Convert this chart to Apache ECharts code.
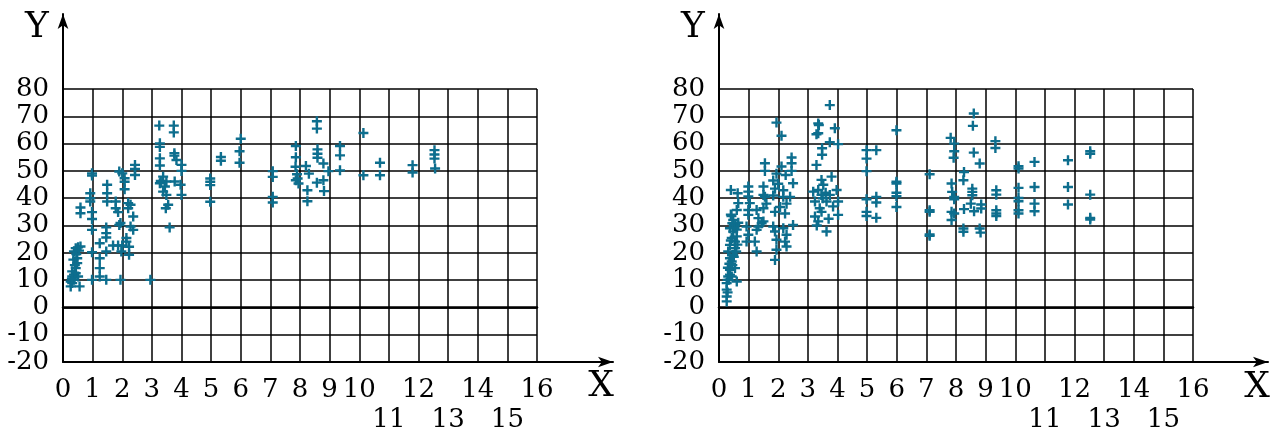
<!DOCTYPE html>
<html>
<head>
<meta charset="utf-8">
<script src="https://cdn.jsdelivr.net/npm/echarts@6/dist/echarts.min.js"></script>
<style>
html,body{margin:0;padding:0;background:#fff;}
#c{width:1281px;height:429px;}
</style>
</head>
<body>
<div id="c"></div>
<script>
// ---- data ----
const xTicks = [0,1,2,3,4,5,6,7,8,9,10,11,12,13,14,15,16];
const yTicks = [-20,-10,0,10,20,30,40,50,60,70,80];
const staggeredX = [11,13,15];

const leftData = [
 [0.26,7.7],[0.31,8.9],[0.37,10.1],[0.26,9.5],[0.31,11.3],[0.37,12.0],[0.31,13.2],[0.43,14.4],[0.43,12.5],[0.48,16.2],
 [0.48,18.0],[0.37,20.5],[0.43,21.7],[0.51,22.0],[0.59,22.3],[0.56,7.7],[0.51,11.3],[0.40,15.5],[0.35,17.5],[0.45,19.5],
 [0.54,20.8],[0.30,10.5],
 [0.98,10.1],[1.46,10.1],[1.94,10.1],[2.95,10.1],
 [1.24,11.3],[1.24,14.4],[1.24,18.0],[0.98,20.2],[1.46,20.5],[1.97,20.5],
 [1.24,23.5],[1.69,22.7],[1.86,22.7],[2.00,22.7],[2.14,25.4],[2.14,24.1],[2.23,22.2],[2.23,19.3],
 [1.46,29.3],[1.46,27.2],[1.46,25.6],[2.28,29.6],[2.37,28.4],
 [0.98,34.9],[0.98,32.4],[0.98,28.4],[0.59,36.6],[0.59,34.5],
 [1.78,38.8],[1.78,36.3],[1.86,34.9],[1.94,30.9],[1.90,30.2],
 [2.20,38.2],[2.20,36.3],[2.28,37.6],[2.37,33.3],
 [0.92,41.8],[0.92,40.0],[0.92,38.8],[1.49,44.9],[1.49,41.8],[1.49,38.8],
 [0.98,49.1],[0.98,48.3],[1.90,49.8],[2.00,49.1],[2.08,47.3],[2.08,46.0],[2.08,43.3],
 [2.43,52.2],[2.43,50.7],[2.43,48.5],
 [3.25,66.6],[3.74,66.6],[3.74,64.1],[3.27,60.1],[3.27,58.8],[3.76,56.5],[3.76,55.6],[3.27,54.6],[3.27,52.0],[3.83,54.0],
 [4.00,52.2],[4.00,50.0],
 [3.38,47.9],[3.49,46.1],[3.44,44.3],[3.38,42.4],[3.49,41.2],[3.55,37.6],[3.47,36.3],[3.27,45.5],[3.30,46.3],[3.77,46.1],
 [3.97,44.9],[4.00,41.2],[3.60,29.3],
 [4.97,47.2],[4.97,46.0],[4.97,44.8],[4.97,38.7],[5.33,55.1],[5.33,53.7],[6.00,61.8],[5.96,57.2],[5.96,53.0],
 [7.08,49.9],[7.08,47.8],[7.08,40.5],[7.08,38.4],
 [7.86,59.1],[7.86,55.0],[7.85,51.5],[7.90,48.8],[7.92,47.2],[7.86,46.6],[7.95,45.4],
 [8.20,51.8],[8.30,49.0],[8.25,42.9],[8.25,38.9],
 [8.57,68.2],[8.57,65.5],[8.59,57.9],[8.59,56.3],[8.59,54.8],[8.79,52.7],[8.96,49.9],[8.57,45.7],[8.79,46.6],[8.81,42.6],
 [9.35,59.1],[9.35,55.7],[9.35,50.2],[10.14,63.9],[10.14,48.4],[10.70,53.0],[10.70,48.4],[11.80,52.1],[11.80,49.4],
 [12.54,57.6],[12.54,56.0],[12.54,54.5],[12.56,50.9]
];

const rightData = [
 [0.26,2.2],[0.26,4.0],[0.29,5.5],[0.26,6.5],[0.26,8.9],[0.29,10.1],[0.31,11.3],[0.37,12.0],[0.37,13.8],[0.43,16.8],
 [0.48,19.3],[0.54,21.7],[0.54,24.1],[0.60,26.0],[0.48,27.8],[0.43,25.4],[0.37,22.9],[0.31,20.5],[0.37,18.0],[0.54,14.4],
 [0.60,9.5],[0.43,11.3],[0.34,10.1],[0.45,15.5],[0.50,18.5],[0.58,20.5],[0.62,23.0],[0.40,24.5],[0.30,14.5],[0.35,16.0],
 [0.48,32.0],[0.40,34.0],[0.55,30.2],[0.37,29.0],[0.60,28.5],[0.65,31.0],[0.45,30.8],[0.52,29.0],[0.42,33.5],
 [0.40,43.0],[0.63,41.8],
 [0.99,44.3],[0.99,42.4],[0.99,40.6],[1.04,38.2],[0.99,35.7],[0.99,33.9],[0.65,38.2],[0.60,35.7],
 [1.27,35.7],[1.33,32.7],[1.44,30.8],[1.27,28.4],[1.33,29.6],
 [1.50,44.3],[1.50,41.2],[1.50,36.3],[1.50,31.5],[1.55,40.5],[1.60,38.0],
 [1.21,24.1],[1.27,20.5],[0.93,29.6],[0.99,26.6],[0.93,24.1],
 [1.83,29.6],[1.89,27.8],[1.94,24.8],[1.94,21.1],[1.89,17.4],
 [2.17,29.0],[2.28,26.6],[2.23,24.1],[2.28,22.3],[2.50,30.2],
 [1.94,67.7],[2.11,62.9],[1.55,52.8],[1.55,50.0],[2.45,54.9],[2.45,52.8],[2.45,50.0],[2.11,51.6],[2.25,48.5],[2.50,45.5],
 [1.94,49.0],[1.83,46.5],[2.00,45.3],[2.17,42.9],[1.89,43.5],[1.83,41.0],[2.17,40.5],[2.40,40.5],[2.28,38.0],[2.06,36.8],
 [2.23,34.4],[1.89,35.0],
 [3.74,74.1],[3.35,67.4],[3.37,66.8],[3.29,63.4],[3.35,63.8],[3.91,65.6],[3.74,60.5],[4.02,59.8],[3.48,58.3],[3.48,55.9],
 [3.29,52.2],
 [3.80,47.9],[3.97,43.0],[3.46,46.7],[3.52,44.9],
 [3.18,42.4],[3.35,43.0],[3.46,41.2],[3.24,38.8],[3.40,36.3],[3.24,33.3],[3.35,31.5],[3.46,35.0],[3.63,38.8],[3.74,41.2],
 [4.02,38.8],[4.02,33.9],[3.63,27.8],[3.30,30.0],[3.50,40.0],[3.60,42.0],[3.85,37.0],[3.70,32.5],
 [4.98,57.6],[4.98,54.5],[4.98,49.9],[5.31,57.6],[4.98,39.6],[4.98,35.0],[4.98,33.5],[5.31,40.5],[5.31,38.4],[5.31,32.8],
 [5.99,64.9],[5.99,46.0],[5.99,45.4],[5.99,42.0],[5.99,40.7],[5.99,36.8],
 [7.11,48.8],[7.11,35.6],[7.11,35.0],[7.11,26.7],[7.11,26.2],
 [7.82,62.1],[7.94,60.0],[7.94,57.2],[7.92,54.8],[7.85,45.4],[7.87,42.3],[7.94,40.5],[7.94,39.6],[7.85,35.0],[7.94,34.4],
 [7.85,32.0],
 [8.27,49.6],[8.25,46.6],[8.27,36.0],[8.25,28.9],[8.25,27.7],
 [8.60,71.0],[8.57,66.5],[8.60,56.7],[8.80,52.7],[8.55,43.5],[8.55,42.3],[8.55,41.1],[8.50,38.0],[8.61,35.2],[8.85,37.7],
 [8.85,36.2],[8.80,28.9],[8.83,27.4],
 [9.33,60.9],[9.33,58.4],[9.36,42.9],[9.36,41.3],[9.36,35.6],[9.36,34.4],[9.36,33.5],
 [10.11,51.7],[10.11,50.9],[10.11,43.8],[10.11,40.1],[10.11,38.9],[10.11,35.6],[10.11,34.4],
 [10.65,53.3],[10.65,44.1],[10.65,38.0],[10.65,35.2],
 [11.78,53.9],[11.78,44.1],[11.78,37.7],
 [12.53,57.2],[12.53,56.3],[12.53,41.3],[12.53,32.8],[12.53,32.2]
];

// ---- styling ----
const FONT = '"DejaVu Serif", serif';
const MARK = '#0d6e8e';
const CROSS = 'path://M3.8,0H6.2V3.8H10V6.2H6.2V10H3.8V6.2H0V3.8H3.8Z';
const gridLine = {show:true, lineStyle:{color:'#000', width:1.5}};

function labelAxis(gMain, margin, formatter) {
  return { gridIndex:gMain, type:'value', min:xTicks[0], max:xTicks[xTicks.length-1], interval:1, position:'bottom',
    axisLine:{show:false, onZero:false}, axisTick:{show:false}, splitLine:{show:false},
    axisLabel:{show:true, showMinLabel:true, showMaxLabel:true, hideOverlap:false,
      margin:margin, color:'#000', fontFamily:FONT, fontSize:26, formatter:formatter} };
}

function panel(gi) {
  const gMain = gi, gArrow = gi + 1;
  const xs = [
    // grid lines + first row of tick labels
    Object.assign(labelAxis(gMain, 15, v => staggeredX.indexOf(v) >= 0 ? '' : String(v)), {splitLine:gridLine}),
    // thick line at y = 0
    { gridIndex:gMain, type:'value', min:xTicks[0], max:xTicks[xTicks.length-1], interval:1, position:'bottom',
      axisLine:{show:true, onZero:true, lineStyle:{color:'#000', width:2.5}}, axisTick:{show:false},
      axisLabel:{show:false}, splitLine:{show:false} },
    // arrow axis
    { gridIndex:gArrow, type:'value', min:0, max:1, position:'bottom',
      axisLine:{show:true, onZero:false, symbol:['none','arrow'], symbolSize:[8,15], lineStyle:{color:'#000', width:2}},
      axisTick:{show:false}, axisLabel:{show:false}, splitLine:{show:false} },
    // second (staggered) row of tick labels
    labelAxis(gMain, 45, v => staggeredX.indexOf(v) >= 0 ? String(v) : '')
  ];
  const ys = [
    { gridIndex:gMain, type:'value', min:yTicks[0], max:yTicks[yTicks.length-1], interval:10,
      axisLine:{show:false}, axisTick:{show:false}, splitLine:gridLine,
      axisLabel:{show:true, showMinLabel:true, showMaxLabel:true, margin:14, color:'#000', fontFamily:FONT, fontSize:26} },
    { gridIndex:gArrow, type:'value', min:0, max:1,
      axisLine:{show:true, onZero:false, symbol:['none','arrow'], symbolSize:[8,15], lineStyle:{color:'#000', width:2}},
      axisTick:{show:false}, axisLabel:{show:false}, splitLine:{show:false} }
  ];
  return {xs, ys};
}

const L = panel(0);
const R = panel(2);
const gridBase = {containLabel:false, outerBoundsMode:'none'};

const option = {
  animation:false,
  backgroundColor:'#fff',
  grid:[
    Object.assign({left:63, top:89, width:474, height:273}, gridBase),
    Object.assign({left:63, top:14, width:550, height:348}, gridBase),
    Object.assign({left:719, top:89, width:474, height:273}, gridBase),
    Object.assign({left:719, top:14, width:549, height:348}, gridBase)
  ],
  xAxis:[...L.xs, ...R.xs],
  yAxis:[...L.ys, ...R.ys],
  series:[
    {type:'scatter', xAxisIndex:0, yAxisIndex:0, data:leftData, symbol:CROSS, symbolSize:10,
     itemStyle:{color:MARK, opacity:1}, z:5},
    {type:'scatter', xAxisIndex:4, yAxisIndex:2, data:rightData, symbol:CROSS, symbolSize:10,
     itemStyle:{color:MARK, opacity:1}, z:5}
  ],
  graphic:[
    {type:'text', x:37, y:28, style:{text:'Y', font:'36px "DejaVu Serif"', fill:'#000', align:'center', verticalAlign:'middle'}},
    {type:'text', x:601, y:387, style:{text:'X', font:'36px "DejaVu Serif"', fill:'#000', align:'center', verticalAlign:'middle'}},
    {type:'text', x:693, y:28, style:{text:'Y', font:'36px "DejaVu Serif"', fill:'#000', align:'center', verticalAlign:'middle'}},
    {type:'text', x:1257, y:388, style:{text:'X', font:'36px "DejaVu Serif"', fill:'#000', align:'center', verticalAlign:'middle'}}
  ]
};

const chart = echarts.init(document.getElementById('c'), null, {renderer:'canvas'});
chart.setOption(option);
</script>
</body>
</html>
